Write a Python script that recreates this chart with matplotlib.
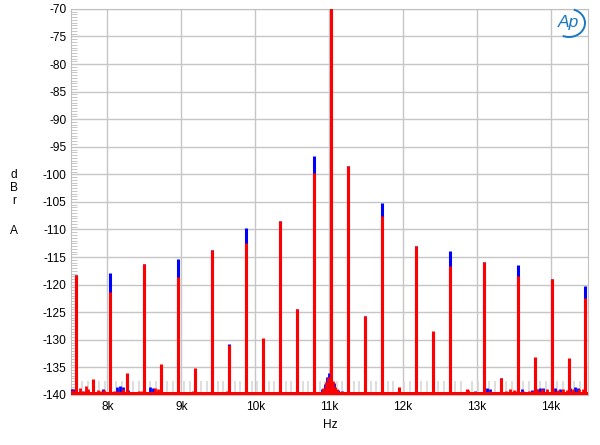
import matplotlib
matplotlib.use("Agg")
import matplotlib.pyplot as plt
from matplotlib.patches import Arc
from matplotlib.ticker import MultipleLocator

plt.rcParams['font.family'] = ['Liberation Sans', 'DejaVu Sans']

# J-test spectral lines (Hz) and their levels (dBrA)
spike_freqs = [7580, 7809, 8039, 8269, 8498, 8728, 8958, 9188, 9417, 9647,
               9877, 10106, 10336, 10566, 10795, 11025, 11255, 11484, 11714, 11944,
               12173, 12403, 12633, 12863, 13092, 13322, 13552, 13781, 14011, 14241, 14470]
red_levels = [-118.2, -137.1, -121.3, -136.0, -116.3, -134.3, -118.6, -135.1, -113.7, -131.0,
              -112.5, -129.6, -108.4, -124.4, -99.8, -10.0, -98.4, -125.7, -107.6, -138.5,
              -113.0, -128.4, -116.6, -139.0, -115.9, -136.9, -118.5, -133.2, -118.9, -133.3, -122.5]
blue_levels = [-118.2, -137.3, -117.9, -136.2, -116.3, -134.5, -115.3, -135.3, -113.7, -130.8,
               -109.7, -129.8, -108.4, -124.5, -96.7, -10.0, -98.4, -125.7, -105.2, -138.7,
               -113.0, -128.5, -113.9, -139.2, -115.9, -137.0, -116.5, -133.3, -118.9, -133.4, -120.3]

# light grey reference stubs
grey_freqs = [7656, 7733, 7886, 7962, 8116, 8192, 8345, 8422, 8575, 8652,
              8805, 8881, 9034, 9111, 9264, 9341, 9494, 9570, 9723, 9800,
              9953, 10030, 10183, 10259, 10412, 10489, 10642, 10719, 10872, 10948,
              11102, 11178, 11331, 11408, 11561, 11637, 11791, 11867, 12020, 12097,
              12250, 12327, 12480, 12556, 12709, 12786, 12939, 13016, 13169, 13245,
              13398, 13475, 13628, 13705, 13858, 13934, 14088, 14164, 14317, 14394]
grey_level = -137.4

# noise floor
floor_freqs = [7500, 14500]
red_floor = [-139.55, -139.55]

red_noise_f = [7520, 7560, 7630, 7712, 7740, 7870, 7910, 7950, 8090, 8130,
               8213, 8335, 8430, 8470, 8560, 8645, 8690, 8850, 8990, 9025,
               9120, 9160, 9230, 9300, 9360, 9520, 9615, 9700, 9760, 10000,
               10200, 10400, 10460, 10700, 10870, 10920, 10955, 10990, 11055, 11080,
               11110, 11150, 11320, 11560, 11800, 12050, 12300, 12500, 12700, 12885,
               12950, 13000, 13180, 13250, 13400, 13450, 13500, 13545, 13620, 13700,
               13760, 13815, 13880, 13950, 14030, 14100, 14160, 14220, 14300, 14380, 14440]
red_noise_l = [-139.1, -139.2, -138.7, -138.3, -139.0, -139.1, -139.3, -139.1, -139.2, -139.3,
               -139.0, -139.4, -139.2, -139.3, -139.5, -138.8, -139.0, -139.5, -139.4, -139.5,
               -139.5, -139.3, -139.6, -139.7, -139.6, -139.7, -139.3, -139.4, -139.7, -139.8,
               -139.8, -139.6, -139.8, -139.8, -139.5, -138.8, -137.6, -136.8, -137.5, -138.5,
               -138.9, -139.4, -139.8, -139.8, -139.8, -139.8, -139.7, -139.8, -139.7, -139.1,
               -139.5, -139.4, -139.3, -139.4, -139.2, -138.9, -139.1, -139.2, -139.3, -139.2,
               -139.3, -138.9, -139.0, -138.9, -139.0, -139.1, -139.0, -139.1, -139.0, -138.9, -138.9]

blue_noise_f = [7510, 7540, 7670, 7800, 7940, 8130, 8170, 8215, 8280, 8580,
                8620, 8750, 9080, 9150, 9690, 10000, 10400, 10900, 10940, 10970,
                11000, 11060, 11120, 11175, 11600, 11650, 12185, 12975, 13135, 13180,
                13560, 13610, 13745, 13815, 13850, 13895, 14060, 14125, 14260, 14330, 14370]
blue_noise_l = [-138.9, -139.0, -139.3, -139.2, -138.9, -138.5, -138.4, -138.6, -139.1, -138.6,
                -138.7, -139.4, -139.5, -139.5, -139.6, -139.7, -139.6, -139.0, -138.0, -136.8,
                -136.1, -137.8, -139.1, -139.3, -139.7, -139.7, -139.7, -139.2, -138.8, -139.0,
                -138.8, -138.9, -139.1, -139.0, -138.7, -138.8, -138.8, -138.9, -138.8, -138.6, -138.7]

x_ticks = [8000, 9000, 10000, 11000, 12000, 13000, 14000]
x_labels = ['8k', '9k', '10k', '11k', '12k', '13k', '14k']
y_ticks = list(range(-140, -69, 5))
y_letters = ['d', 'B', 'r', 'A']

RED = '#ff0000'
BLUE = '#0000ff'
GRID = '#c6c6c6'
FS = 8.6

fig = plt.figure(figsize=(6.0, 4.45), dpi=100)
ax = fig.add_axes([0.1175, 0.1125, 0.862, 0.8675])
ax.set_xlim(7500, 14500)
ax.set_ylim(-140, -70)

ax.set_xticks(x_ticks)
ax.set_xticklabels(x_labels)
ax.set_yticks(y_ticks)
ax.set_yticklabels([str(v) for v in y_ticks])
ax.yaxis.set_minor_locator(MultipleLocator(0.5))
ax.tick_params(axis='both', which='major', length=0, labelsize=FS, colors='black')
ax.tick_params(axis='x', which='major', pad=4.5)
ax.tick_params(axis='y', which='major', pad=2.8)
ax.tick_params(axis='y', which='minor', direction='in', length=4, width=0.6, color='#bdbdbd')
ax.tick_params(axis='x', which='minor', length=0)
ax.grid(True, which='major', color=GRID, linewidth=1.0)
ax.set_axisbelow(True)
for s in ax.spines.values():
    s.set_color('#c0c0c0')
    s.set_linewidth(0.8)

# grey stubs
ax.vlines(grey_freqs, -140, grey_level, color='#d4d4d4', linewidth=1.1, zorder=2)

# blue trace
ax.vlines(blue_noise_f, -140, blue_noise_l, color=BLUE, linewidth=2.0, zorder=3)
ax.vlines(spike_freqs, -140, blue_levels, color=BLUE, linewidth=2.2, zorder=3)

# red trace
ax.fill_between(floor_freqs, -140, red_floor, color=RED, linewidth=0, zorder=4)
ax.vlines(red_noise_f, -140, red_noise_l, color=RED, linewidth=2.0, zorder=4)
ax.vlines(spike_freqs, -140, red_levels, color=RED, linewidth=2.2, zorder=4)

# axis labels
fig.text(330 / 600, 1 - 425 / 445, 'Hz', ha='center', va='center', fontsize=FS)
for letter, ypix in zip(y_letters, [175, 188, 201, 231]):
    fig.text(14 / 600, 1 - ypix / 445, letter, ha='center', va='center', fontsize=FS)

# AP logo
logo_color = '#1a78c2'
fig.text(568 / 600, 1 - 23 / 445, 'Ap', ha='center', va='center', fontsize=12.5,
         style='italic', color=logo_color)
arc = Arc((569 / 600, 1 - 23 / 445), 32 / 600, 28 / 445, angle=0, theta1=-110, theta2=75,
          transform=fig.transFigure, color=logo_color, linewidth=1.4)
fig.add_artist(arc)

fig.savefig('out.png', dpi=100, facecolor='white')
